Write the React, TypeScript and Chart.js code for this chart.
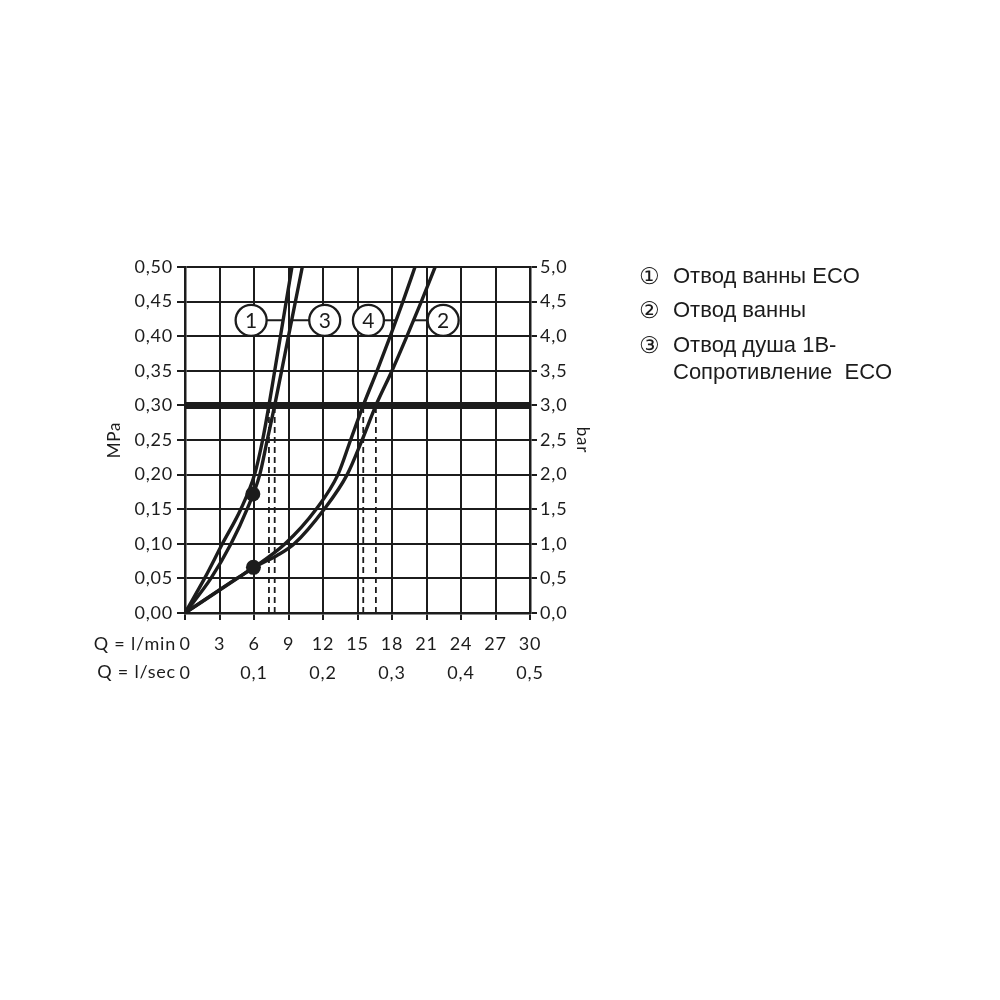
import React, { useEffect, useRef } from "react";
import { Chart, registerables } from "chart.js";

Chart.register(...registerables);

// ---- data ----
const pressureSteps = [0, 0.05, 0.1, 0.15, 0.2, 0.25, 0.3, 0.35, 0.4, 0.45, 0.5];
const curve1Flow = [0, 1.7, 3.25, 4.85, 6.05, 6.75, 7.3, 7.8, 8.3, 8.8, 9.3];
const curve3Flow = [0, 2.25, 4.0, 5.4, 6.5, 7.15, 7.8, 8.4, 9.0, 9.6, 10.2];
const curve4Pressure = [0, 0.05, 0.066, 0.1, 0.15, 0.2, 0.25, 0.3, 0.35, 0.4, 0.45, 0.5];
const curve4Flow = [0, 4.5, 6.0, 8.7, 11.4, 13.3, 14.4, 15.5, 16.7, 17.85, 18.95, 20.0];
const curve2Pressure = [0, 0.05, 0.066, 0.083, 0.1, 0.15, 0.2, 0.25, 0.3, 0.35, 0.4, 0.45, 0.5];
const curve2Flow = [0, 4.55, 6.0, 8.0, 9.5, 12.1, 14.1, 15.4, 16.6, 18.0, 19.3, 20.55, 21.75];

const workingPressure = 0.3;
const dropFlows = [7.3, 7.8, 15.5, 16.6];
const markerFlow = [5.9, 5.95];
const markerPressure = [0.172, 0.066];

const calloutText = ["1", "3", "4", "2"];
const calloutFlow = [5.75, 12.15, 15.95, 22.45];
const calloutPressure = 0.423;
const leaderFrom = [5.75, 9.28, 15.95, 19.9];
const leaderTo = [8.53, 12.15, 18.36, 22.45];

const flowLpmLabels = ["0", "3", "6", "9", "12", "15", "18", "21", "24", "27", "30"];
const flowLsecLabels = ["0", "0,1", "0,2", "0,3", "0,4", "0,5"];
const mpaLabels = ["0,00", "0,05", "0,10", "0,15", "0,20", "0,25", "0,30", "0,35", "0,40", "0,45", "0,50"];
const barLabels = ["0,0", "0,5", "1,0", "1,5", "2,0", "2,5", "3,0", "3,5", "4,0", "4,5", "5,0"];

const legendMarks = ["\u2460", "\u2461", "\u2462", ""];
const legendTexts = ["Отвод ванны ECO", "Отвод ванны", "Отвод душа 1B-", "Сопротивление  ECO"];

const ink = "#1c1c1c";
const FONT = "Lato";
const FS = 18;

const zip = (xs: number[], ys: number[]) => xs.map((x, i) => ({ x, y: ys[i] }));

const curveStyle = {
  showLine: true,
  borderColor: ink,
  borderWidth: 3.4,
  pointRadius: 0,
  cubicInterpolationMode: "monotone" as const,
};

export default function App() {
  const ref = useRef<HTMLCanvasElement | null>(null);

  useEffect(() => {
    if (!ref.current) return;

    const overlay = {
      id: "overlay",
      beforeDraw(chart: any) {
        try {
          chart.ctx.letterSpacing = "0.8px";
        } catch (e) {}
      },
      afterDatasetsDraw(chart: any) {
        const ctx = chart.ctx;
        const meta = chart.getDatasetMeta(0);
        ctx.save();
        ctx.fillStyle = ink;
        ctx.font = `400 21px ${FONT}`;
        ctx.textAlign = "center";
        ctx.textBaseline = "middle";
        try {
          ctx.letterSpacing = "0px";
        } catch (e) {}
        meta.data.forEach((el: any, i: number) => ctx.fillText(calloutText[i], el.x, el.y + 1));
        ctx.restore();
      },
      afterDraw(chart: any) {
        const ctx = chart.ctx;
        const xs = chart.scales.x;
        const xs2 = chart.scales.x2;
        ctx.save();
        ctx.fillStyle = ink;
        ctx.font = `400 ${FS}px ${FONT}`;
        ctx.textAlign = "right";
        ctx.textBaseline = "middle";
        const left = chart.chartArea.left - 9;
        ctx.fillText("Q = l/min", left, xs.top + 31);
        ctx.fillText("Q = l/sec", left, xs2.top + 19);
        ctx.restore();
      },
    };

    const datasets: any[] = [
      {
        label: "callouts",
        data: calloutFlow.map((x) => ({ x, y: calloutPressure })),
        pointRadius: 15.5,
        pointBackgroundColor: "#ffffff",
        pointBorderColor: ink,
        pointBorderWidth: 2.3,
      },
      {
        label: "markers",
        data: zip(markerFlow, markerPressure),
        pointRadius: 7.5,
        pointBackgroundColor: ink,
        pointBorderColor: ink,
        pointBorderWidth: 0,
      },
      { label: "1", data: zip(curve1Flow, pressureSteps), ...curveStyle },
      { label: "3", data: zip(curve3Flow, pressureSteps), ...curveStyle },
      { label: "4", data: zip(curve4Flow, curve4Pressure), ...curveStyle },
      { label: "2", data: zip(curve2Flow, curve2Pressure), ...curveStyle },
      {
        label: "working",
        data: [
          { x: 0, y: workingPressure },
          { x: 30, y: workingPressure },
        ],
        showLine: true,
        borderColor: ink,
        borderWidth: 7,
        pointRadius: 0,
      },
      ...dropFlows.map((f) => ({
        label: "drop",
        data: [
          { x: f, y: 0 },
          { x: f, y: workingPressure },
        ],
        showLine: true,
        borderColor: ink,
        borderWidth: 1.8,
        borderDash: [6, 4],
        pointRadius: 0,
      })),
      ...leaderFrom.map((f, i) => ({
        label: "leader",
        data: [
          { x: f, y: calloutPressure },
          { x: leaderTo[i], y: calloutPressure },
        ],
        showLine: true,
        borderColor: ink,
        borderWidth: 2,
        pointRadius: 0,
      })),
    ];

    const tickFont = { family: FONT, size: FS };

    const chart = new Chart(ref.current, {
      type: "scatter",
      data: { datasets },
      plugins: [overlay],
      options: {
        animation: false,
        responsive: false,
        devicePixelRatio: 1,
        layout: { padding: { left: 100, top: 267, right: 403, bottom: 307 } },
        plugins: { legend: { display: false }, tooltip: { enabled: false } },
        scales: {
          x: {
            type: "linear",
            position: "bottom",
            min: 0,
            max: 30,
            ticks: {
              stepSize: 3,
              color: ink,
              font: tickFont,
              padding: 13,
              maxRotation: 0,
              callback: (_v: any, i: number) => flowLpmLabels[i],
            },
            grid: { color: ink, lineWidth: 2, tickLength: 7, drawTicks: true },
            border: { color: ink, width: 2.5 },
            afterFit: (s: any) => {
              s.height = 40;
            },
          },
          x2: {
            type: "linear",
            position: "bottom",
            min: 0,
            max: 0.5,
            ticks: {
              stepSize: 0.1,
              color: ink,
              font: tickFont,
              padding: 1,
              maxRotation: 0,
              callback: (_v: any, i: number) => flowLsecLabels[i],
            },
            grid: { display: false },
            border: { display: false },
            afterFit: (s: any) => {
              s.height = 40;
            },
          },
          y: {
            type: "linear",
            position: "left",
            min: 0,
            max: 0.5,
            ticks: {
              stepSize: 0.05,
              color: ink,
              font: tickFont,
              padding: 4,
              callback: (_v: any, i: number) => mpaLabels[i],
            },
            grid: { color: ink, lineWidth: 2, tickLength: 8 },
            border: { color: ink, width: 2.5 },
            title: { display: true, text: "MPa", color: ink, font: { family: FONT, size: 17 } },
            afterFit: (s: any) => {
              s.width = 85;
            },
          },
          y2: {
            type: "linear",
            position: "right",
            min: 0,
            max: 5,
            ticks: {
              stepSize: 0.5,
              color: ink,
              font: tickFont,
              padding: 3,
              callback: (_v: any, i: number) => barLabels[i],
            },
            grid: { color: ink, lineWidth: 2, tickLength: 7, drawOnChartArea: false },
            border: { color: ink, width: 2.5 },
            title: { display: true, text: "bar", color: ink, font: { family: FONT, size: 17 } },
            afterFit: (s: any) => {
              s.width = 67;
            },
          },
        },
      } as any,
    });

    return () => chart.destroy();
  }, []);

  const legendCenters = [275.5, 310, 344.5, 371.5];

  return (
    <div style={{ position: "absolute", left: 0, top: 0, width: 1000, height: 1000, background: "#fff" }}>
      <canvas ref={ref} width={1000} height={1000} style={{ position: "absolute", left: 0, top: 0 }} />
      {legendTexts.map((t, i) => (
        <div
          key={i}
          style={{
            position: "absolute",
            left: 639,
            top: legendCenters[i] - 11,
            height: 22,
            lineHeight: "22px",
            fontFamily: "'Liberation Sans', Arial, sans-serif",
            fontSize: 22,
            color: ink,
            whiteSpace: "pre",
          }}
        >
          <span
            style={{
              display: "inline-block",
              width: 34,
              fontFamily: "'DejaVu Sans', sans-serif",
              fontSize: 23,
              verticalAlign: "top",
              lineHeight: "22px",
            }}
          >
            {legendMarks[i]}
          </span>
          {t}
        </div>
      ))}
    </div>
  );
}
